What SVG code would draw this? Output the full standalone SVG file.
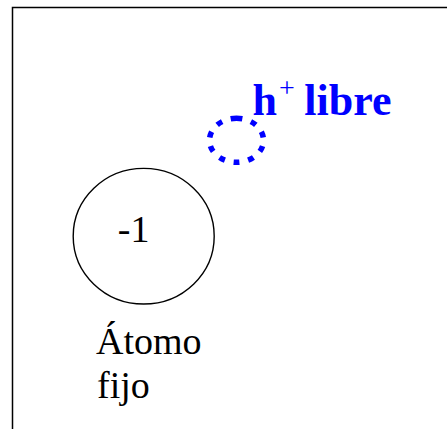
<svg xmlns="http://www.w3.org/2000/svg" width="447" height="429" viewBox="0 0 447 429">
<style>
.frame{fill:none;stroke:#000;stroke-width:1.5}
.atom{fill:#fff;stroke:#000;stroke-width:1.4}
.hole{fill:none;stroke:#0000ff;stroke-width:5.5}
.lbl{fill:#000}
.hl{fill:#0000ff;font-weight:bold}
</style>
<rect width="447" height="429" fill="#fff"/>
<path class="frame" d="M12.5,429 V7.5 H447"/>
<g id="atomo-fijo">
<ellipse class="atom" cx="143.7" cy="236.2" rx="70.5" ry="67.8"/>
<text class="lbl" font-family="'Liberation Serif', 'DejaVu Serif', serif" x="117.8" y="242.3" font-size="38">-1</text>
<text class="lbl" font-family="'Liberation Serif', 'DejaVu Serif', serif" font-size="38"><tspan x="96" y="354">Átomo</tspan><tspan x="97" y="398">fijo</tspan></text>
</g>
<g id="hueco-libre">
<path class="hole" pathLength="155" stroke-dasharray="12 8.9 6 8.9 6 8.9 6 8.9 6 8.9 6 8.9 6 8.9 6 8.9 6 8.9 6 8.9" stroke-dashoffset="6" d="M236.5,118.3 A27,22 0 1,1 236.5,162.3 A27,22 0 1,1 236.5,118.3 Z"/>
<text class="hl" font-family="'Liberation Serif', 'DejaVu Serif', serif" font-size="44"><tspan x="252.6" y="115">h</tspan><tspan x="279" y="97" font-size="28" font-weight="normal">+</tspan><tspan x="304.3" y="115">libre</tspan></text>
</g>
</svg>
